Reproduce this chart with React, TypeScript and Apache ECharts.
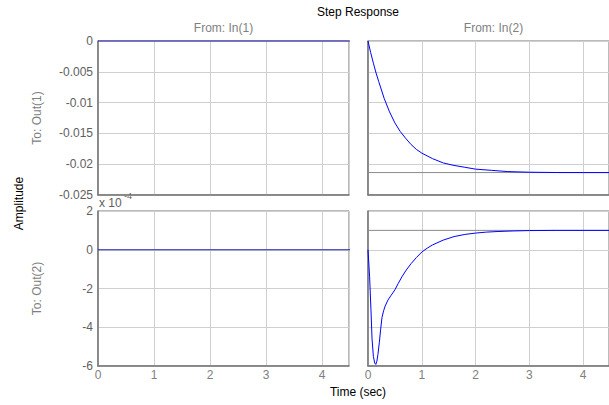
import React, { useEffect, useRef } from "react";
import * as echarts from "echarts";

const X_MAX = 4.48;
const xTicks = [0, 1, 2, 3, 4];

// In(1) -> Out(1) and In(1) -> Out(2): flat zero responses
const flatT = [0, 4.6];
const flatY = [0, 0];

// In(2) -> Out(1)
const out1T = [0, 0.05, 0.1, 0.15, 0.2, 0.3, 0.4, 0.5, 0.6, 0.7, 0.8, 0.9, 1.0, 1.2, 1.4, 1.6, 1.8, 2.0, 2.3, 2.6, 3.0, 3.5, 4.0, 4.6];
const out1Y = [0, -0.0019, -0.0036, -0.0052, -0.0066, -0.0093, -0.0115, -0.0133, -0.0147, -0.0158, -0.0168, -0.0176, -0.0182, -0.0191, -0.0198, -0.0202, -0.0205, -0.0208, -0.021, -0.0212, -0.0213, -0.02135, -0.02136, -0.02136];
const out1Final = -0.02136;

// In(2) -> Out(2), in units of 1e-4
const out2T = [0, 0.03, 0.055, 0.075, 0.1, 0.125, 0.145, 0.165, 0.185, 0.21, 0.235, 0.26, 0.29, 0.32, 0.37, 0.43, 0.5, 0.56, 0.63, 0.71, 0.8, 0.9, 1.0, 1.1, 1.2, 1.4, 1.6, 1.8, 2.0, 2.2, 2.4, 2.7, 3.0, 3.5, 4.6];
const out2Y = [0, -1.4, -3.1, -4.6, -5.5, -5.85, -5.92, -5.75, -5.4, -4.8, -4.1, -3.5, -3.15, -2.9, -2.6, -2.35, -2.07, -1.75, -1.4, -1.05, -0.72, -0.4, -0.12, 0.08, 0.25, 0.5, 0.68, 0.79, 0.86, 0.91, 0.94, 0.97, 0.99, 1.0, 1.0];
const out2Final = 1.0;

const zip = (a: number[], b: number[]) => a.map((v, i) => [v, b[i]]);

const FONT = "Liberation Sans, Arial, Helvetica, sans-serif";
const BOX = "#777777";
const GRIDC = "#cfcfcf";

export default function App() {
  const ref = useRef<HTMLDivElement>(null);
  useEffect(() => {
    if (!ref.current) return;
    const chart = echarts.init(ref.current, undefined, { renderer: "svg" });
    const grids = [
      { left: 98, top: 41, width: 251, height: 154 },
      { left: 368, top: 41, width: 251, height: 154 },
      { left: 98, top: 211, width: 251, height: 155 },
      { left: 368, top: 211, width: 251, height: 155 },
    ].map((g) => ({ ...g, show: true, borderColor: BOX, borderWidth: 1, backgroundColor: "#fff" }));

    const xAxes = [0, 1, 2, 3].map((i) => ({
      type: "value",
      gridIndex: i,
      min: 0,
      max: X_MAX,
      interval: 1,
      axisLine: { show: true, onZero: false, lineStyle: { color: BOX, width: 1.5 } },
      axisTick: { show: false },
      splitLine: { show: true, lineStyle: { color: GRIDC, width: 1 } },
      axisLabel: {
        show: i >= 2,
        showMaxLabel: false,
        color: "#808080",
        fontSize: 12,
        fontFamily: FONT,
        margin: 3,
        formatter: (v: number) => (xTicks.includes(v) ? String(v) : ""),
      },
    }));

    const yAxes = [0, 1, 2, 3].map((i) => {
      const top = i < 2;
      return {
        type: "value",
        gridIndex: i,
        min: top ? -0.025 : -6,
        max: top ? 0 : 2,
        interval: top ? 0.005 : 2,
        axisLine: { show: true, onZero: false, lineStyle: { color: BOX, width: 1.5 } },
        axisTick: { show: false },
        splitLine: { show: true, lineStyle: { color: GRIDC, width: 1 } },
        axisLabel: {
          show: i % 2 === 0,
          color: "#606060",
          fontSize: 12,
          fontFamily: FONT,
          margin: 5,
        },
      };
    });

    const line = (xi: number, data: number[][], color: string, z = 3) => ({
      type: "line",
      xAxisIndex: xi,
      yAxisIndex: xi,
      data,
      showSymbol: false,
      symbol: "none",
      clip: true,
      z,
      lineStyle: { color, width: 1 },
      itemStyle: { color },
    });

    chart.setOption({
      animation: false,
      backgroundColor: "#fff",
      grid: grids,
      xAxis: xAxes,
      yAxis: yAxes,
      series: [
        { ...line(0, zip(flatT, flatY), "#2020b0"), clip: false },
        line(1, zip([0, 4.6], [out1Final, out1Final]), "#8a8a8a", 2),
        line(1, zip(out1T, out1Y), "#0000ff"),
        line(2, zip(flatT, flatY), "#2020b0"),
        line(3, zip([0, 4.6], [out2Final, out2Final]), "#8a8a8a", 2),
        line(3, zip(out2T, out2Y), "#0000ff"),
      ],
      graphic: [
        { type: "text", x: 358, y: 12, style: { text: "Step Response", fontSize: 12, fontFamily: FONT, fill: "#000", align: "center", verticalAlign: "middle" } },
        { type: "text", x: 223.5, y: 28, style: { text: "From: In(1)", fontSize: 12, fontFamily: FONT, fill: "#7f7f7f", align: "center", verticalAlign: "middle" } },
        { type: "text", x: 493.5, y: 28, style: { text: "From: In(2)", fontSize: 12, fontFamily: FONT, fill: "#7f7f7f", align: "center", verticalAlign: "middle" } },
        { type: "text", x: 358, y: 392, style: { text: "Time (sec)", fontSize: 12, fontFamily: FONT, fill: "#000", align: "center", verticalAlign: "middle" } },
        { type: "text", x: 18.5, y: 203.5, rotation: Math.PI / 2, style: { text: "Amplitude", fontSize: 12, fontFamily: FONT, fill: "#000", align: "center", verticalAlign: "middle" } },
        { type: "text", x: 37, y: 118, rotation: Math.PI / 2, style: { text: "To: Out(1)", fontSize: 12, fontFamily: FONT, fill: "#7f7f7f", align: "center", verticalAlign: "middle" } },
        { type: "text", x: 37, y: 288.5, rotation: Math.PI / 2, style: { text: "To: Out(2)", fontSize: 12, fontFamily: FONT, fill: "#7f7f7f", align: "center", verticalAlign: "middle" } },
        { type: "text", x: 99, y: 202.5, style: { text: "x 10", fontSize: 12, fontFamily: FONT, fill: "#606060", align: "left", verticalAlign: "middle" } },
        { type: "text", x: 124, y: 196, style: { text: "-4", fontSize: 9, fontFamily: FONT, fill: "#606060", align: "left", verticalAlign: "middle" } },
      ],
    });
    return () => chart.dispose();
  }, []);
  return (
    <div
      ref={ref}
      style={{ position: "fixed", left: 0, top: 0, width: 609, height: 405, background: "#fff" }}
    />
  );
}
